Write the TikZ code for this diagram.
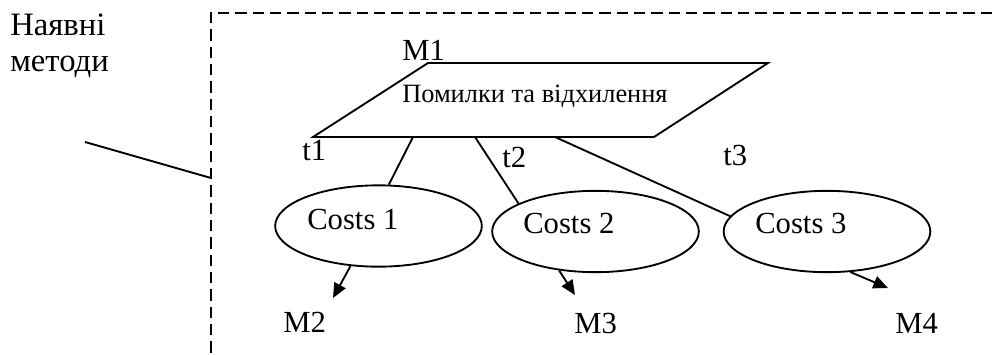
\documentclass[tikz,border=0pt]{standalone}
\usepackage{fontspec}
\setmainfont{Liberation Serif}
\usetikzlibrary{shapes.geometric,arrows.meta}

\tikzset{
  lbl/.style={inner sep=0pt, anchor=base west, font=\fontsize{23}{27}\selectfont},
  side/.style={inner sep=0pt, anchor=base west, font=\fontsize{24.5}{28}\selectfont},
  inner/.style={inner sep=0pt, anchor=base west, font=\fontsize{19.8}{23}\selectfont},
  costbox/.style={draw, ellipse, line width=1.4pt, minimum width=155pt, minimum height=61pt, inner sep=0pt},
  link/.style={line width=1.4pt},
  flow/.style={line width=1.4pt, -{Triangle[length=11pt, width=9.5pt]}},
  frame/.style={line width=1.4pt, dash pattern=on 8.5pt off 4.5pt}
}

\begin{document}
\begin{tikzpicture}[x=0.75pt, y=-0.75pt]
  \useasboundingbox (0,0) rectangle (992,354);

  % dashed boundary of the method group
  \coordinate (fr) at (992,13);
  \coordinate (fc) at (211,13);
  \coordinate (fb) at (211,354);
  \draw[frame] (fr) -- (fc) -- (fb);

  % caption at the left and its pointer line
  \node[side] (cap1) at (10,35) {Наявні};
  \node[side] (cap2) at (10,71) {методи};
  \coordinate (ptrA) at (85,142);
  \coordinate (ptrB) at (211,178);
  \draw[link] (ptrA) -- (ptrB);

  % parallelogram M1
  \coordinate (pTL) at (428,63);
  \coordinate (pTR) at (768,63);
  \coordinate (pBR) at (654,137);
  \coordinate (pBL) at (313,137);
  \draw[link, line join=miter] (pTL) -- (pTR) -- (pBR) -- (pBL) -- cycle;
  \node[inner] (err) at (402,102) {Помилки та відхилення};
  \node[lbl] (m1) at (402,60) {M1};

  % branch points on the lower edge
  \coordinate (b1) at (413,137);
  \coordinate (b2) at (475,137);
  \coordinate (b3) at (555,137);

  % labels of the time points
  \node[lbl] (t1) at (302,160) {t1};
  \node[lbl] (t2) at (502,167) {t2};
  \node[lbl] (t3) at (723,165) {t3};

  % cost ellipses
  \node[costbox] (e1) at (378.5,226) {};
  \node[costbox] (e2) at (595.5,231.5) {};
  \node[costbox] (e3) at (827,231.5) {};
  \node[lbl] (c1) at (307,229) {Costs 1};
  \node[lbl] (c2) at (523,233) {Costs 2};
  \node[lbl] (c3) at (755,233) {Costs 3};

  \draw[link] (b1) -- (e1.76);
  \draw[link] (b2) -- (e2.160);
  \draw[link] (b3) -- (e3.171);

  % outputs
  \coordinate (a1) at (333,298);
  \coordinate (a2) at (575,295);
  \coordinate (a3) at (888,288);
  \draw[flow] (e1.235) -- (a1);
  \draw[flow] (e2.227) -- (a2);
  \draw[flow] (e3.300) -- (a3);

  \node[lbl] (m2) at (283,332) {M2};
  \node[lbl] (m3) at (574,333) {M3};
  \node[lbl] (m4) at (895,333) {M4};
\end{tikzpicture}
\end{document}
